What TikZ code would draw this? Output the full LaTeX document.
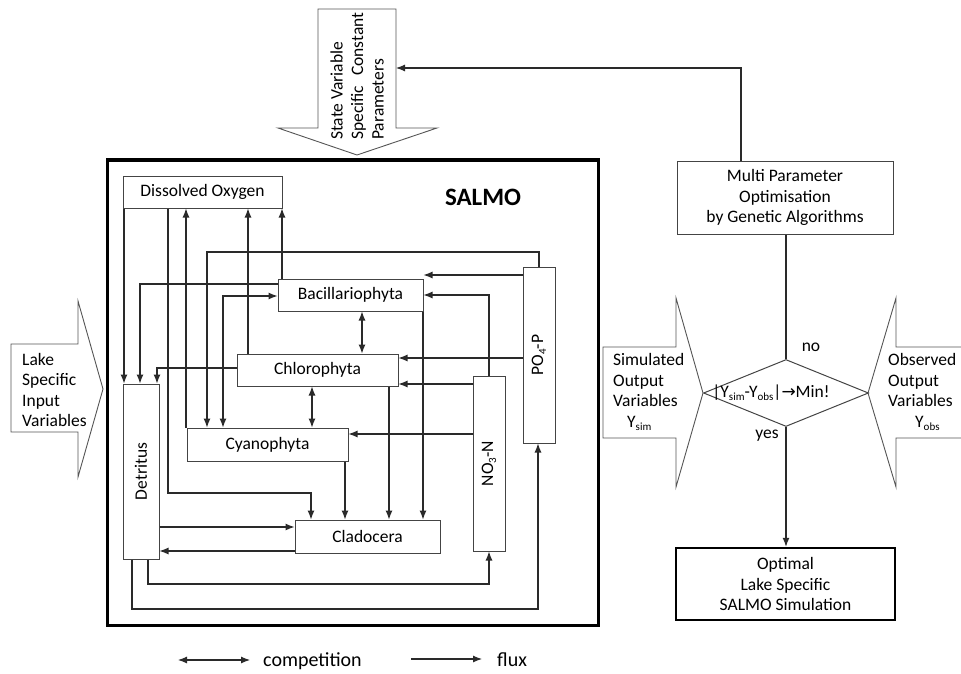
\documentclass[tikz,border=0pt]{standalone}
\usepackage{fontspec}
\setmainfont{Carlito}
\newfontfamily\djv{DejaVu Sans}
\usetikzlibrary{arrows.meta,shapes.geometric}
\definecolor{lg}{HTML}{2A2A2A}
\definecolor{bg}{HTML}{444444}
\definecolor{fg}{HTML}{555555}
\newcommand\fs{\fontsize{17.5}{20.5}\selectfont}
\newcommand\lsub[1]{\raisebox{-0.35ex}{\fontsize{11}{11}\selectfont #1}}
\tikzset{
  box/.style={draw=bg, line width=1pt, inner sep=0pt},
  flux/.style={draw=lg, line width=1.1pt, -{Latex[length=9pt,width=7pt]}},
  comp/.style={draw=lg, line width=1.1pt, {Latex[length=9pt,width=7pt]}-{Latex[length=9pt,width=7pt]}},
  plain/.style={draw=lg, line width=1.1pt},
  fat/.style={draw=fg, line width=0.9pt, fill=white},
  legtext/.style={anchor=west, inner sep=0pt, font=\fontsize{20}{22}\selectfont},
}
\begin{document}
\begin{tikzpicture}[x=1pt,y=-1pt,font=\fs]
\useasboundingbox (0,0) rectangle (961,674);

% fat arrows
\draw[fat] (318,9) -- (396,9) -- (396,128) -- (437,128) -- (357,155) -- (278,128) -- (318,128) -- cycle;
\draw[fat] (11,344) -- (78,344) -- (78,301) -- (103,389) -- (78,477) -- (78,432) -- (11,432) -- cycle;
\draw[fat] (603,347) -- (676,347) -- (676,298) -- (703,393) -- (676,487) -- (676,438) -- (603,438) -- cycle;
\draw[fat] (962,347) -- (896,347) -- (896,298) -- (868,393) -- (896,487) -- (896,438) -- (962,438);

\node[rotate=90, anchor=west, align=left, inner sep=0pt] (topT) at (357,140) {State Variable\\Specific\hspace{6pt} Constant\\Parameters};
\node[anchor=west, align=left, inner sep=0pt] (lakeT) at (22,390) {Lake\\Specific\\Input\\Variables};
\node[anchor=west, align=left, inner sep=0pt] (simT) at (613,392) {Simulated\\Output\\Variables\\\hspace*{14pt}Y\lsub{sim}};
\node[anchor=west, align=left, inner sep=0pt] (obsT) at (888,392) {Observed\\Output\\Variables\\\hspace*{27pt}Y\lsub{obs}};

% main model box
\node[draw=black, line width=3pt, minimum width=491pt, minimum height=465pt, inner sep=0pt] (salmoBox) at (352.5,392.5) {};
\node[font=\fontsize{25}{25}\selectfont\bfseries] (salmo) at (483,197) {SALMO};

% compartments
\node[box, minimum width=159pt, minimum height=32pt] (DO) at (202.5,192) {Dissolved Oxygen};
\node[box, minimum width=145pt, minimum height=32pt] (B) at (350.5,295) {Bacillariophyta};
\node[box, minimum width=161pt, minimum height=32pt] (Ch) at (317.5,370) {Chlorophyta};
\node[box, minimum width=161pt, minimum height=33pt] (Cy) at (267.5,444.5) {Cyanophyta};
\node[box, minimum width=145pt, minimum height=33pt] (Cl) at (367.5,536.5) {Cladocera};
\node[box, minimum width=36pt, minimum height=175pt] (Det) at (141,471.5) {};
\node[rotate=90] (DetT) at (Det) {Detritus};
\node[box, minimum width=32pt, minimum height=175pt] (NO3) at (489,463.5) {};
\node[rotate=90] (NO3T) at (NO3) {NO\lsub{3}-N};
\node[box, minimum width=32pt, minimum height=176pt] (PO4) at (539,355) {};
\node[rotate=90] (PO4T) at (PO4) {PO\lsub{4}-P};

% connectors inside the model
\draw[flux] (124,0 |- DO.south) -- (124,0 |- Det.north);
\draw[flux] (B.west |- 0,284) -| (140,0 |- Det.north);
\draw[flux] (Ch.west |- 0,368) -| (157,0 |- Det.north);
\draw[flux] (168,0 |- DO.south) |- (311,493) -- (311,0 |- Cl.north);
\draw[flux] (186,0 |- Cy.north) -- (186,0 |- DO.south);
\draw[flux] (539,0 |- PO4.north) -- (539,252) -| (207,0 |- Cy.north);
\draw[comp] (B.west |- 0,296) -| (223,0 |- Cy.north);
\draw[flux] (248,0 |- Ch.north) -- (248,0 |- DO.south);
\draw[flux] (282,0 |- B.north) -- (282,0 |- DO.south);
\draw[flux] (345,0 |- Cy.south) -- (345,0 |- Cl.north);
\draw[flux] (389,0 |- Ch.south) -- (389,0 |- Cl.north);
\draw[flux] (423,0 |- B.south) -- (423,0 |- Cl.north);
\draw[flux] (Det.east |- 0,527) -- (Cl.west |- 0,527);
\draw[flux] (Cl.west |- 0,551) -- (Det.east |- 0,551);
\draw[flux] (148,0 |- Det.south) |- (489,584) -- (489,0 |- NO3.south);
\draw[flux] (132,0 |- Det.south) |- (538,609) -- (538,0 |- PO4.south);
\draw[flux] (PO4.west |- 0,275) -- (B.east |- 0,275);
\draw[flux] (PO4.west |- 0,358) -- (Ch.east |- 0,358);
\draw[flux] (489,0 |- NO3.north) |- (B.east |- 0,295);
\draw[flux] (NO3.west |- 0,384) -- (Ch.east |- 0,384);
\draw[flux] (NO3.west |- 0,434) -- (Cy.east |- 0,434);
\draw[comp] (362,0 |- B.south) -- (362,0 |- Ch.north);
\draw[comp] (312,0 |- Ch.south) -- (312,0 |- Cy.north);

% optimisation loop
\node[box, minimum width=216pt, minimum height=73pt, align=center] (Opt) at (785,197.5) {Multi Parameter\\Optimisation\\by Genetic Algorithms};
\node[diamond, draw=bg, line width=1pt, minimum width=165pt, minimum height=67pt, inner sep=0pt] (Dia) at (786,393) {};
\node[inner sep=0pt] (DiaT) at (771,393) {|Y\lsub{sim}-Y\lsub{obs}|{\djv\fontsize{17}{17}\selectfont →}Min!};
\node[draw=black, line width=2.5pt, minimum width=219pt, minimum height=72pt, inner sep=0pt, align=center] (Res) at (785.5,584) {Optimal\\Lake Specific\\SALMO Simulation};
\coordinate (shaftR) at (396,68);
\draw[plain] (786,0 |- Opt.south) -- (Dia.north);
\draw[flux] (Dia.south) -- (786,0 |- Res.north);
\draw[flux] (741,0 |- Opt.north) |- (shaftR);
\node (no) at (811,347) {no};
\node (yes) at (767,436) {yes};

% legend
\coordinate (c1) at (178,660);
\coordinate (c2) at (250,660);
\draw[comp] (c1) -- (c2);
\node[legtext] (compT) at (263,661) {competition};
\coordinate (f1) at (411,659);
\coordinate (f2) at (482,659);
\draw[flux] (f1) -- (f2);
\node[legtext] (fluxT) at (497,660) {flux};
\end{tikzpicture}
\end{document}
